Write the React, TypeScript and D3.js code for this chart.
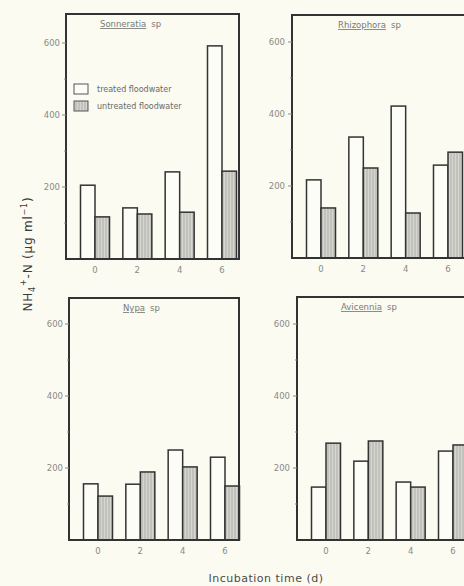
import React from "react";
import * as d3 from "d3";

const times = ["0", "2", "4", "6"];
const species = ["Sonneratia", "Rhizophora", "Nypa", "Avicennia"];
const treated = [
  [205, 142, 242, 592],
  [217, 336, 422, 258],
  [156, 155, 250, 230],
  [147, 219, 161, 247],
];
const untreated = [
  [117, 125, 130, 244],
  [139, 250, 125, 294],
  [122, 189, 203, 150],
  [269, 275, 147, 264],
];
const majorTicks = [200, 400, 600];
const minorTicks = [100, 300, 500];
const legendLabels = ["treated floodwater", "untreated floodwater"];

const W = 464;
const H = 586;
const layout = [
  { left: 66, top: 14, base: 259, width: 173, titleX: 34, labelGap: 6 },
  { left: 292, top: 15, base: 258, width: 173, titleX: 46, labelGap: 7 },
  { left: 69, top: 298, base: 540, width: 170, titleX: 54, labelGap: 6 },
  { left: 297, top: 297, base: 540, width: 173, titleX: 44, labelGap: 7 },
];
const BAR_W = 14.5;
const INK = "#333";
const FAINT = "#8a8a86";
const BG = "#fbfbf2";
const FONT = "'DejaVu Sans', Verdana, sans-serif";

function Panel({ idx }: { idx: number }) {
  const L = layout[idx];
  const y = d3.scaleLinear().domain([0, 680]).range([L.base, L.base - 680 * 0.36]);
  const x = d3.scalePoint<string>().domain(times).range([L.left + 29, L.left + 156]);
  return (
    <g>
      {times.map((t, i) => (
        <g key={t}>
          <rect
            x={(x(t) as number) - BAR_W}
            y={y(treated[idx][i])}
            width={BAR_W}
            height={L.base - y(treated[idx][i])}
            fill="#fdfdf8"
            stroke={INK}
            strokeWidth={1.5}
          />
          <rect
            x={x(t) as number}
            y={y(untreated[idx][i])}
            width={BAR_W}
            height={L.base - y(untreated[idx][i])}
            fill="url(#hatch)"
            stroke={INK}
            strokeWidth={1.5}
          />
          <text
            x={x(t) as number}
            y={L.base + 14}
            textAnchor="middle"
            fontSize={8.5}
            fill={FAINT}
            fontFamily={FONT}
          >
            {t}
          </text>
        </g>
      ))}
      <rect
        x={L.left}
        y={L.top}
        width={L.width}
        height={L.base - L.top}
        fill="none"
        stroke={INK}
        strokeWidth={2}
      />
      {majorTicks.map((v) => (
        <g key={v}>
          <line x1={L.left - 4} x2={L.left} y1={y(v)} y2={y(v)} stroke={FAINT} strokeWidth={1} />
          <text
            x={L.left - L.labelGap}
            y={y(v) + 3}
            textAnchor="end"
            fontSize={8.5}
            fill={FAINT}
            fontFamily={FONT}
          >
            {v}
          </text>
        </g>
      ))}
      {minorTicks.map((v) => (
        <line key={v} x1={L.left - 2} x2={L.left} y1={y(v)} y2={y(v)} stroke={FAINT} strokeWidth={1} />
      ))}
      <text
        x={L.left + L.titleX}
        y={L.top + 13}
        fontSize={8.5}
        fill="#7a7a76"
        fontFamily={FONT}
      >
        <tspan style={{ textDecoration: "underline" }}>{species[idx]}</tspan>
        <tspan dx={5}>sp</tspan>
      </text>
      {idx === 0 && (
        <g>
          {legendLabels.map((lab, k) => (
            <g key={lab}>
              <rect
                x={L.left + 8}
                y={L.top + 70 + k * 17}
                width={14}
                height={10}
                fill={k === 0 ? "#fdfdf8" : "url(#hatch)"}
                stroke="#555"
                strokeWidth={1}
              />
              <text
                x={L.left + 31}
                y={L.top + 78 + k * 17}
                fontSize={8}
                fill="#6a6a66"
                fontFamily={FONT}
              >
                {lab}
              </text>
            </g>
          ))}
        </g>
      )}
    </g>
  );
}

export default function App() {
  return (
    <svg
      width={W}
      height={H}
      style={{ position: "absolute", left: 0, top: 0, background: BG }}
    >
      <defs>
        <pattern id="hatch" width={3} height={4} patternUnits="userSpaceOnUse">
          <rect width={3} height={4} fill="#d6d6d0" />
          <line x1={1} x2={1} y1={0} y2={4} stroke="#aeaea8" strokeWidth={1} />
        </pattern>
      </defs>
      <rect width={W} height={H} fill={BG} />
      {species.map((s, i) => (
        <Panel key={s} idx={i} />
      ))}
      <text
        transform="translate(32,254) rotate(-90)"
        textAnchor="middle"
        fontSize={12}
        fill="#3a3a3a"
        fontFamily={FONT}
        letterSpacing={0.8}
      >
        NH<tspan dy={3} fontSize={8}>4</tspan>
        <tspan dy={-9} fontSize={8}>+</tspan>
        <tspan dy={6}>-N (μg ml</tspan>
        <tspan dy={-5} fontSize={8}>−1</tspan>
        <tspan dy={5}>)</tspan>
      </text>
      <text
        x={266}
        y={582}
        textAnchor="middle"
        fontSize={11}
        fill="#4a4a4a"
        fontFamily={FONT}
        letterSpacing={0.5}
      >
        Incubation time (d)
      </text>
    </svg>
  );
}
